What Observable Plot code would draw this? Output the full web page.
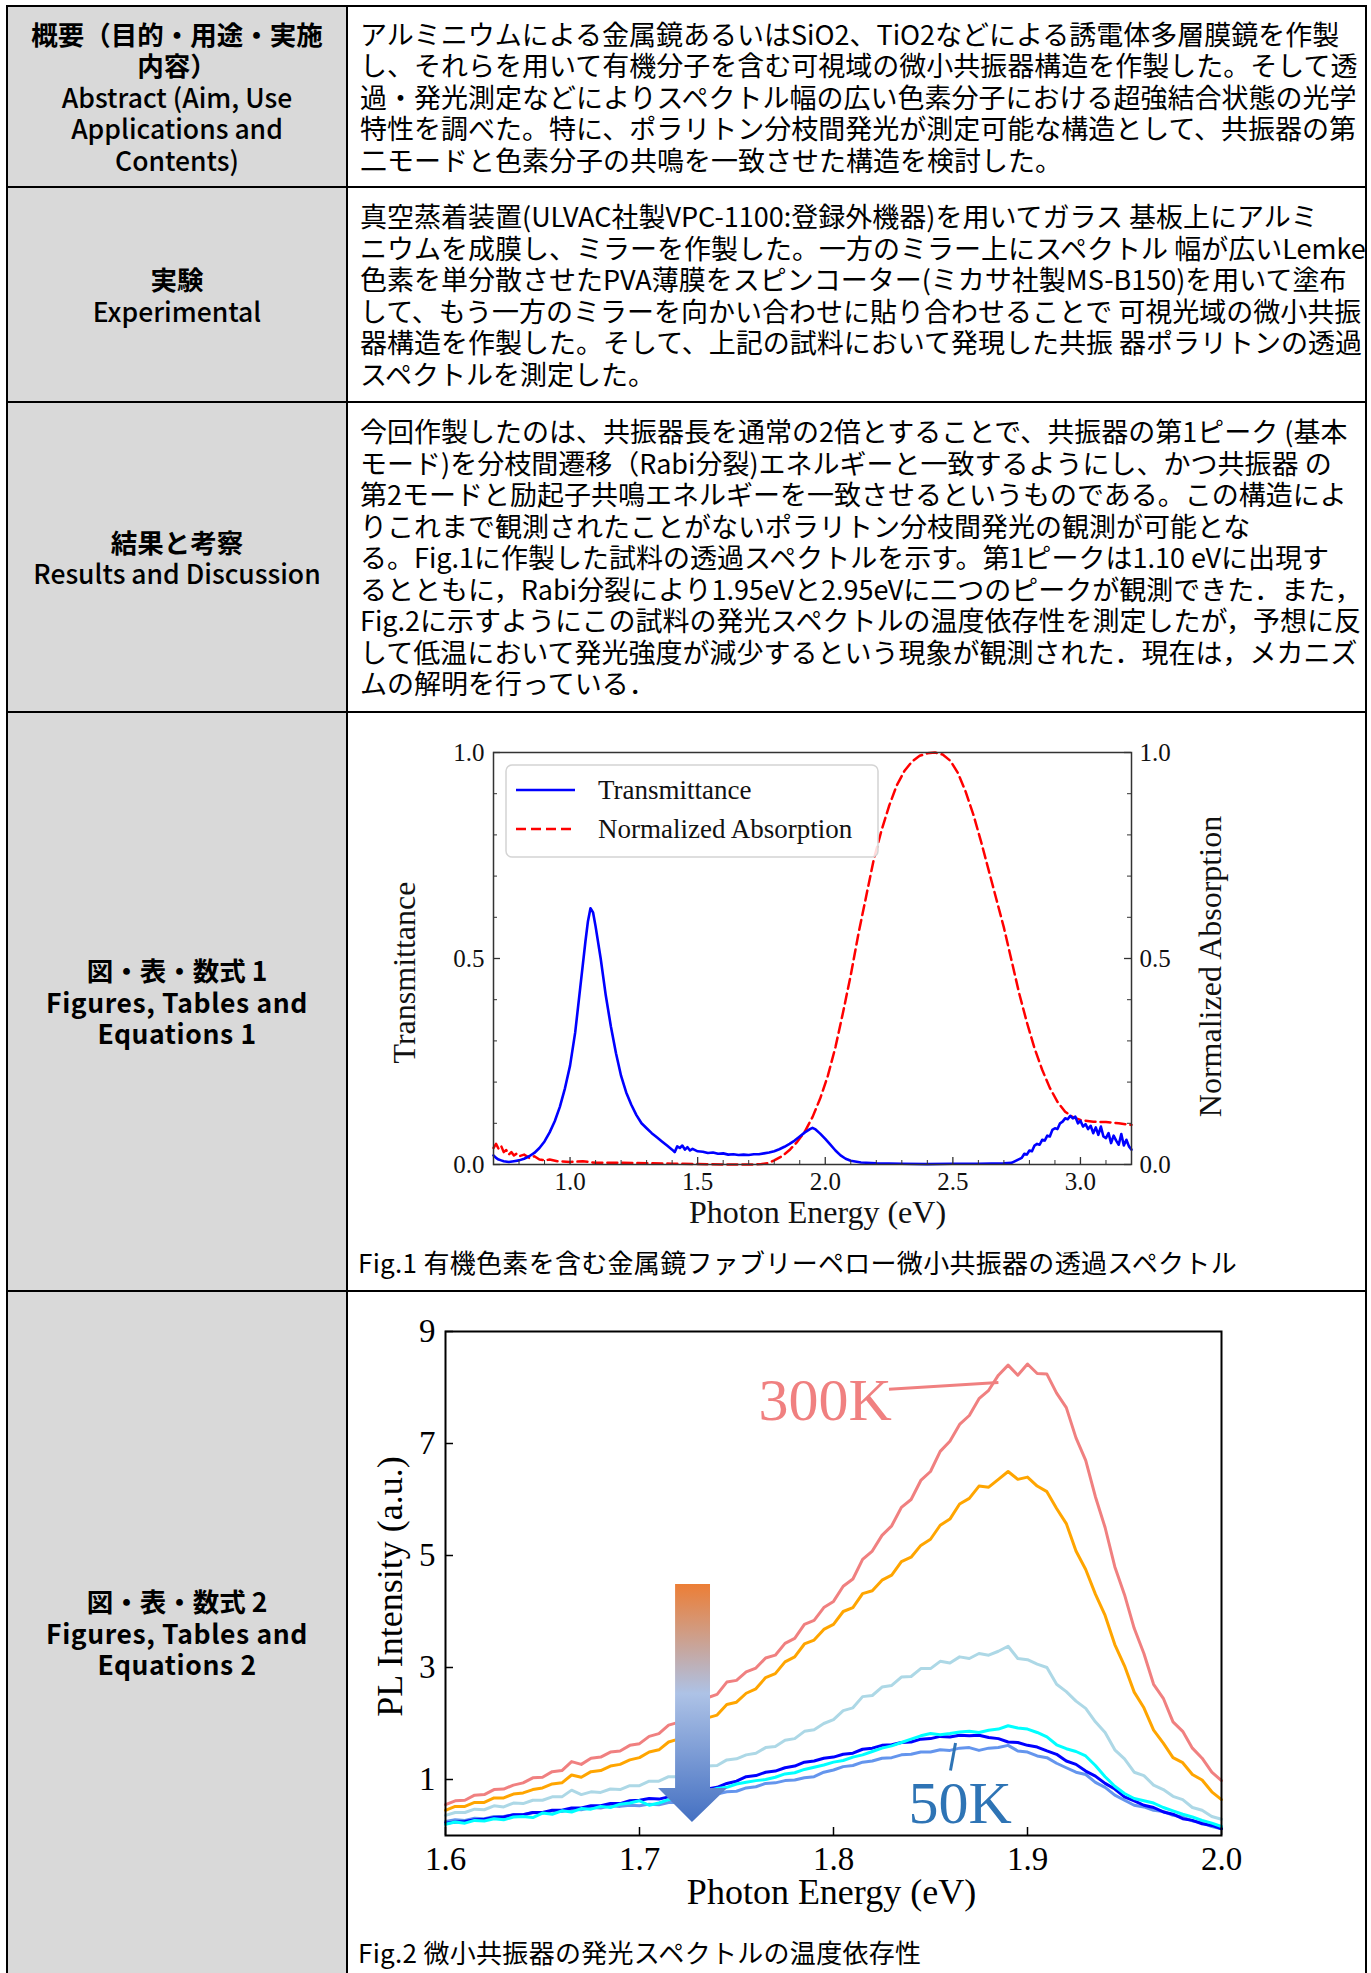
<!DOCTYPE html>
<html lang="ja">
<head>
<meta charset="utf-8">
<script src="https://cdn.jsdelivr.net/npm/d3@7"></script>
<script src="https://cdn.jsdelivr.net/npm/@observablehq/plot@0.6"></script>
<style>
html,body{margin:0;padding:0;background:#fff;}
body{position:relative;width:1371px;height:1973px;overflow:hidden;font-family:"Noto Sans CJK JP","Noto Sans",sans-serif;color:#000;}
.hl{position:absolute;left:6px;width:1361px;height:2px;background:#000;}
.vl{position:absolute;top:5px;width:2px;height:1968px;background:#000;}
.lc{position:absolute;left:8px;width:338px;background:#d9d9d9;display:flex;align-items:center;justify-content:center;text-align:center;font-size:26.5px;line-height:31.5px;}
.lc b{font-weight:700;}
.en{font-weight:500;}
.enb{font-weight:700;letter-spacing:0.6px;}
.rc{position:absolute;left:348px;width:1017px;display:flex;align-items:center;box-sizing:border-box;padding-left:12px;font-size:27px;line-height:31.5px;white-space:nowrap;}
.cap{position:absolute;left:358px;font-size:26px;line-height:26px;white-space:nowrap;letter-spacing:0.3px;}
.chart{position:absolute;left:348px;}
</style>
</head>
<body>
<div class="lc" style="top:7px;height:179px;"><div><b>概要（目的・用途・実施<br>内容）</b><br><span class="en">Abstract (Aim, Use<br>Applications and<br>Contents)</span></div></div>
<div class="rc" style="top:7px;height:179px;"><div>アルミニウムによる金属鏡あるいはSiO2、TiO2などによる誘電体多層膜鏡を作製<br>し、それらを用いて有機分子を含む可視域の微小共振器構造を作製した。そして透<br>過・発光測定などによりスペクトル幅の広い色素分子における超強結合状態の光学<br>特性を調べた。特に、ポラリトン分枝間発光が測定可能な構造として、共振器の第<br>二モードと色素分子の共鳴を一致させた構造を検討した。</div></div>

<div class="lc" style="top:188px;height:213px;"><div><b>実験</b><br><span class="en">Experimental</span></div></div>
<div class="rc" style="top:188px;height:213px;"><div>真空蒸着装置(ULVAC社製VPC-1100:登録外機器)を用いてガラス 基板上にアルミ<br>ニウムを成膜し、ミラーを作製した。一方のミラー上にスペクトル 幅が広いLemke<br>色素を単分散させたPVA薄膜をスピンコーター(ミカサ社製MS-B150)を用いて塗布<br>して、もう一方のミラーを向かい合わせに貼り合わせることで 可視光域の微小共振<br>器構造を作製した。そして、上記の試料において発現した共振 器ポラリトンの透過<br>スペクトルを測定した。</div></div>

<div class="lc" style="top:403px;height:308px;"><div><b>結果と考察</b><br><span class="en">Results and Discussion</span></div></div>
<div class="rc" style="top:403px;height:308px;"><div>今回作製したのは、共振器長を通常の2倍とすることで、共振器の第1ピーク (基本<br>モード)を分枝間遷移（Rabi分裂)エネルギーと一致するようにし、かつ共振器 の<br>第2モードと励起子共鳴エネルギーを一致させるというものである。この構造によ<br>りこれまで観測されたことがないポラリトン分枝間発光の観測が可能とな<br>る。Fig.1に作製した試料の透過スペクトルを示す。第1ピークは1.10 eVに出現す<br>るとともに，Rabi分裂により1.95eVと2.95eVに二つのピークが観測できた．また，<br>Fig.2に示すようにこの試料の発光スペクトルの温度依存性を測定したが，予想に反<br>して低温において発光強度が減少するという現象が観測された．現在は，メカニズ<br>ムの解明を行っている．</div></div>

<div class="lc" style="top:713px;height:577px;"><div><b>図・表・数式 1</b><br><span class="enb">Figures, Tables and<br>Equations 1</span></div></div>
<div class="lc" style="top:1292px;height:681px;"><div><b>図・表・数式 2</b><br><span class="enb">Figures, Tables and<br>Equations 2</span></div></div>

<div class="hl" style="top:5px;"></div>
<div class="hl" style="top:186px;"></div>
<div class="hl" style="top:401px;"></div>
<div class="hl" style="top:711px;"></div>
<div class="hl" style="top:1290px;"></div>
<div class="vl" style="left:6px;"></div>
<div class="vl" style="left:346px;"></div>
<div class="vl" style="left:1365px;"></div>

<div id="fig1" class="chart" style="top:713px;"></div>
<div id="fig2" class="chart" style="top:1292px;"></div>
<div class="cap" style="top:1249px;">Fig.1 有機色素を含む金属鏡ファブリーペロー微小共振器の透過スペクトル</div>
<div class="cap" style="top:1939px;">Fig.2 微小共振器の発光スペクトルの温度依存性</div>

<script>
// ---------------- Fig.1 data ----------------
const transEnergy = [0.70,0.71,0.72,0.73,0.74,0.76,0.78,0.80,0.82,0.84,0.86,0.88,0.90,0.92,0.94,0.96,0.98,1.00,1.02,1.04,1.06,1.07,1.08,1.09,1.10,1.12,1.14,1.16,1.18,1.20,1.22,1.24,1.26,1.28,1.30,1.32,1.34,1.36,1.38,1.40,1.41,1.42,1.43,1.44,1.45,1.46,1.47,1.48,1.50,1.52,1.54,1.56,1.58,1.60,1.62,1.64,1.66,1.68,1.70,1.72,1.74,1.76,1.78,1.80,1.82,1.84,1.86,1.88,1.90,1.92,1.94,1.95,1.96,1.98,2.00,2.02,2.04,2.06,2.08,2.10,2.14,2.20,2.30,2.40,2.50,2.60,2.70,2.73,2.75,2.77,2.78,2.79,2.80,2.81,2.82,2.83,2.84,2.85,2.86,2.87,2.88,2.89,2.90,2.91,2.92,2.93,2.94,2.95,2.96,2.97,2.98,2.99,3.00,3.01,3.02,3.03,3.04,3.05,3.06,3.07,3.08,3.09,3.10,3.11,3.12,3.13,3.14,3.15,3.16,3.17,3.18,3.19,3.20];
const transValue = [0.022,0.016,0.012,0.010,0.008,0.006,0.008,0.010,0.014,0.020,0.028,0.040,0.056,0.078,0.105,0.140,0.185,0.240,0.320,0.430,0.540,0.590,0.622,0.612,0.578,0.500,0.410,0.335,0.270,0.215,0.175,0.145,0.120,0.100,0.088,0.076,0.066,0.056,0.046,0.036,0.030,0.044,0.040,0.046,0.036,0.042,0.034,0.038,0.032,0.031,0.028,0.029,0.026,0.027,0.024,0.025,0.023,0.024,0.023,0.025,0.025,0.027,0.029,0.032,0.037,0.043,0.050,0.058,0.068,0.078,0.086,0.089,0.086,0.075,0.062,0.048,0.034,0.022,0.014,0.009,0.005,0.003,0.002,0.001,0.002,0.002,0.003,0.004,0.010,0.016,0.026,0.024,0.034,0.032,0.046,0.050,0.048,0.060,0.058,0.070,0.068,0.084,0.088,0.086,0.100,0.104,0.112,0.110,0.118,0.112,0.116,0.100,0.106,0.092,0.098,0.086,0.094,0.076,0.090,0.072,0.092,0.068,0.064,0.076,0.052,0.070,0.058,0.048,0.074,0.046,0.060,0.044,0.036];
const absEnergy = [0.70,0.71,0.72,0.73,0.74,0.75,0.76,0.77,0.78,0.79,0.80,0.82,0.84,0.86,0.88,0.90,0.92,0.95,1.00,1.05,1.10,1.20,1.30,1.40,1.50,1.60,1.70,1.75,1.78,1.80,1.83,1.86,1.89,1.92,1.95,1.98,2.01,2.04,2.07,2.10,2.13,2.16,2.19,2.22,2.25,2.28,2.31,2.34,2.37,2.40,2.43,2.46,2.49,2.52,2.55,2.58,2.61,2.64,2.67,2.70,2.73,2.76,2.79,2.82,2.85,2.88,2.91,2.94,2.97,3.00,3.05,3.10,3.15,3.20];
const absValue = [0.040,0.050,0.038,0.045,0.030,0.035,0.024,0.030,0.022,0.026,0.020,0.024,0.016,0.020,0.012,0.010,0.012,0.008,0.006,0.008,0.004,0.004,0.003,0.002,0.001,0.000,0.000,0.001,0.004,0.010,0.020,0.035,0.055,0.080,0.115,0.160,0.215,0.285,0.370,0.460,0.560,0.650,0.740,0.810,0.870,0.920,0.955,0.978,0.992,0.998,1.000,0.995,0.980,0.950,0.905,0.850,0.785,0.715,0.645,0.575,0.495,0.415,0.345,0.282,0.230,0.186,0.152,0.128,0.115,0.108,0.104,0.103,0.100,0.096];
const fig1SeriesNames = ["Transmittance", "Normalized Absorption"];
const fig1MajorX = [1.0, 1.5, 2.0, 2.5, 3.0];
const fig1MinorX = [0.7,0.8,0.9,1.1,1.2,1.3,1.4,1.6,1.7,1.8,1.9,2.1,2.2,2.3,2.4,2.6,2.7,2.8,2.9,3.1];
const fig1MajorY = [0.0, 0.5, 1.0];
const fig1MinorY = [0.1,0.2,0.3,0.4,0.6,0.7,0.8,0.9];

// ---------------- Fig.2 data ----------------
const plEnergy = [1.600,1.605,1.610,1.615,1.620,1.625,1.630,1.635,1.640,1.645,
1.650,1.655,1.660,1.665,1.670,1.675,1.680,1.685,1.690,1.695,
1.700,1.705,1.710,1.715,1.720,1.725,1.730,1.735,1.740,1.745,
1.750,1.755,1.760,1.765,1.770,1.775,1.780,1.785,1.790,1.795,
1.800,1.805,1.810,1.815,1.820,1.825,1.830,1.835,1.840,1.845,
1.850,1.855,1.860,1.865,1.870,1.875,1.880,1.885,1.890,1.895,
1.900,1.905,1.910,1.915,1.920,1.925,1.930,1.935,1.940,1.945,
1.950,1.955,1.960,1.965,1.970,1.975,1.980,1.985,1.990,1.995,
2.000];
const plLightcoral = [0.55,0.62,0.63,0.72,0.73,0.82,0.83,0.90,0.94,1.03,
1.04,1.14,1.16,1.32,1.27,1.38,1.40,1.49,1.51,1.61,
1.64,1.77,1.82,1.97,2.02,2.20,2.27,2.46,2.52,2.74,
2.77,2.92,2.99,3.17,3.22,3.43,3.52,3.77,3.84,4.07,
4.18,4.45,4.58,4.93,5.08,5.36,5.53,5.86,6.00,6.34,
6.50,6.86,7.04,7.34,7.50,7.80,7.95,8.22,8.40,8.22,
8.42,8.25,8.24,7.90,7.64,7.10,6.70,6.05,5.50,4.80,
4.30,3.70,3.25,2.70,2.45,2.03,1.86,1.56,1.38,1.13,
0.98];
const plOrange = [0.45,0.52,0.52,0.59,0.59,0.67,0.67,0.74,0.76,0.82,
0.85,0.92,0.94,1.08,1.04,1.14,1.16,1.24,1.27,1.35,
1.39,1.49,1.53,1.67,1.72,1.88,1.93,2.10,2.15,2.34,
2.38,2.54,2.62,2.82,2.89,3.10,3.19,3.42,3.49,3.68,
3.77,4.00,4.07,4.32,4.37,4.56,4.65,4.89,4.97,5.18,
5.29,5.54,5.65,5.92,6.02,6.24,6.22,6.36,6.50,6.36,
6.40,6.24,6.14,5.84,5.57,5.08,4.75,4.31,3.93,3.41,
3.03,2.56,2.28,1.88,1.65,1.39,1.30,1.09,0.99,0.78,
0.64];
const plLightblue = [0.36,0.41,0.41,0.47,0.46,0.53,0.51,0.58,0.57,0.63,
0.63,0.69,0.69,0.81,0.73,0.78,0.77,0.83,0.82,0.89,
0.89,0.97,0.97,1.05,1.05,1.14,1.14,1.24,1.25,1.35,
1.37,1.44,1.47,1.57,1.59,1.70,1.73,1.86,1.89,2.00,
2.07,2.23,2.28,2.48,2.50,2.65,2.68,2.83,2.84,2.98,
2.98,3.11,3.08,3.19,3.16,3.25,3.22,3.29,3.38,3.16,
3.14,3.06,3.00,2.70,2.57,2.40,2.27,2.03,1.84,1.53,
1.37,1.13,1.07,0.90,0.82,0.70,0.64,0.50,0.45,0.34,
0.29];
const plCornflower = [0.25,0.28,0.27,0.31,0.30,0.34,0.34,0.37,0.37,0.41,
0.40,0.44,0.43,0.47,0.46,0.50,0.49,0.53,0.52,0.54,
0.53,0.56,0.55,0.59,0.59,0.64,0.66,0.72,0.74,0.78,
0.79,0.85,0.87,0.93,0.94,0.98,0.99,1.03,1.05,1.13,
1.17,1.23,1.25,1.31,1.33,1.38,1.39,1.44,1.45,1.49,
1.49,1.53,1.52,1.56,1.57,1.52,1.56,1.57,1.61,1.51,
1.49,1.42,1.39,1.29,1.21,1.13,1.09,0.95,0.86,0.72,
0.63,0.54,0.51,0.45,0.43,0.36,0.33,0.26,0.23,0.16,
0.12];
const plBlue = [0.22,0.24,0.25,0.28,0.29,0.32,0.33,0.37,0.37,0.41,
0.41,0.45,0.45,0.49,0.49,0.53,0.53,0.57,0.57,0.62,
0.63,0.66,0.65,0.69,0.70,0.75,0.77,0.83,0.86,0.93,
0.97,1.05,1.07,1.13,1.15,1.21,1.24,1.31,1.33,1.38,
1.40,1.45,1.47,1.54,1.56,1.61,1.62,1.66,1.67,1.72,
1.73,1.77,1.76,1.79,1.78,1.79,1.75,1.73,1.67,1.66,
1.61,1.58,1.51,1.45,1.33,1.27,1.15,1.06,0.93,0.83,
0.69,0.62,0.54,0.50,0.42,0.38,0.30,0.27,0.21,0.18,
0.12];
const plCyan = [0.20,0.24,0.22,0.27,0.26,0.30,0.28,0.33,0.34,0.32,
0.40,0.38,0.44,0.42,0.48,0.47,0.52,0.50,0.56,0.58,
0.62,0.54,0.58,0.64,0.66,0.70,0.76,0.79,0.84,0.86,
0.92,0.95,0.98,1.00,1.04,1.10,1.12,1.18,1.22,1.26,
1.31,1.34,1.40,1.44,1.50,1.56,1.60,1.66,1.72,1.78,
1.82,1.80,1.82,1.85,1.86,1.84,1.88,1.90,1.96,1.92,
1.90,1.84,1.76,1.62,1.55,1.50,1.42,1.25,1.05,0.88,
0.75,0.66,0.62,0.58,0.50,0.44,0.38,0.33,0.27,0.22,
0.16];
const fig2TicksX = [1.6, 1.7, 1.8, 1.9, 2.0];
const fig2TicksY = [1, 3, 5, 7, 9];
const fig2Labels = ["300K", "50K"];

// ---------------- build tables ----------------
const trans = transEnergy.map((e, i) => ({e, v: transValue[i]}));
const absorb = absEnergy.map((e, i) => ({e, v: absValue[i]}));
const plSeries = [
  {name: "lightcoral", color: "#f08080", values: plLightcoral},
  {name: "orange", color: "#ffa500", values: plOrange},
  {name: "lightblue", color: "#add8e6", values: plLightblue},
  {name: "cornflower", color: "#6495ed", values: plCornflower},
  {name: "blue", color: "#0000ff", values: plBlue},
  {name: "cyan", color: "#00ffff", values: plCyan}
];

const serif = "'Liberation Serif', 'Times New Roman', serif";

// ---------------- Fig.1 ----------------
const W1 = 1017, H1 = 532, ml1 = 145, mr1 = 234, mt1 = 39, mb1 = 81;
const fw1 = W1 - ml1 - mr1, fh1 = H1 - mt1 - mb1;

function legend1(index, scales, values, dims) {
  const g = d3.create("svg:g");
  const x0 = dims.marginLeft + 13, y0 = dims.marginTop + 13;
  g.append("rect").attr("x", x0).attr("y", y0).attr("width", 372).attr("height", 92)
    .attr("rx", 6).attr("fill", "#fff").attr("fill-opacity", 0.85)
    .attr("stroke", "#d4d4d4").attr("stroke-width", 1.5);
  const rows = [
    {name: fig1SeriesNames[0], color: "#0000ff", dash: null, dy: 25},
    {name: fig1SeriesNames[1], color: "#ff0000", dash: "10,5", dy: 64}
  ];
  for (const r of rows) {
    g.append("line").attr("x1", x0 + 10).attr("x2", x0 + 69)
      .attr("y1", y0 + r.dy).attr("y2", y0 + r.dy)
      .attr("stroke", r.color).attr("stroke-width", 2.5)
      .attr("stroke-dasharray", r.dash);
    g.append("text").attr("x", x0 + 92).attr("y", y0 + r.dy + 9)
      .attr("text-anchor", "start")
      .attr("font-size", 27).attr("font-family", serif).attr("fill", "#111")
      .text(r.name);
  }
  return g.node();
}

const fig1 = Plot.plot({
  width: W1, height: H1,
  marginLeft: ml1, marginRight: mr1, marginTop: mt1, marginBottom: mb1,
  style: {fontFamily: serif, background: "transparent", overflow: "visible", color: "#111"},
  x: {domain: [0.7, 3.2]},
  y: {domain: [0, 1]},
  marks: [
    Plot.line(absorb, {x: "e", y: "v", stroke: "#ff0000", strokeWidth: 2.5, strokeDasharray: "10,5"}),
    Plot.line(trans, {x: "e", y: "v", stroke: "#0000ff", strokeWidth: 2.6}),
    Plot.tickX(fig1MinorX, {x: d => d, insetTop: fh1 - 4, stroke: "#333", strokeWidth: 1}),
    Plot.tickX(fig1MajorX, {x: d => d, insetTop: fh1 - 7, stroke: "#333", strokeWidth: 1.3}),
    Plot.tickY(fig1MinorY, {y: d => d, insetRight: fw1 - 4, stroke: "#333", strokeWidth: 1}),
    Plot.tickY(fig1MajorY, {y: d => d, insetRight: fw1 - 7, stroke: "#333", strokeWidth: 1.3}),
    Plot.tickY(fig1MinorY, {y: d => d, insetLeft: fw1 - 4, stroke: "#333", strokeWidth: 1}),
    Plot.tickY(fig1MajorY, {y: d => d, insetLeft: fw1 - 7, stroke: "#333", strokeWidth: 1.3}),
    Plot.frame({stroke: "#333", strokeWidth: 1.5}),
    Plot.axisX(fig1MajorX, {tickSize: 0, tickPadding: 8, tickFormat: d3.format(".1f"), fontSize: 25, label: null}),
    Plot.axisY(fig1MajorY, {anchor: "left", tickSize: 0, tickPadding: 9, tickFormat: d3.format(".1f"), fontSize: 25, label: null}),
    Plot.axisY(fig1MajorY, {anchor: "right", tickSize: 0, tickPadding: 8, tickFormat: d3.format(".1f"), fontSize: 25, label: null}),
    Plot.text(["Transmittance"], {text: d => d, frameAnchor: "left", textAnchor: "middle", dx: -89, dy: 14, rotate: -90, fontSize: 32}),
    Plot.text(["Normalized Absorption"], {text: d => d, frameAnchor: "right", textAnchor: "middle", dx: 79, dy: 8, rotate: -90, fontSize: 32}),
    Plot.text(["Photon Energy (eV)"], {text: d => d, frameAnchor: "bottom", textAnchor: "middle", dx: 5, dy: 58, fontSize: 32}),
    legend1
  ]
});
document.getElementById("fig1").appendChild(fig1);

// ---------------- Fig.2 ----------------
const W2 = 1017, H2 = 633, ml2 = 97, mr2 = 144, mt2 = 39, mb2 = 90;
const fw2 = W2 - ml2 - mr2, fh2 = H2 - mt2 - mb2;

const plRows = plSeries.flatMap(s => plEnergy.map((e, i) => ({e, v: s.values[i], name: s.name, color: s.color})));

// gradient arrow annotation (data units)
const arrowSpec = {shaftLeft: 1.7186, shaftRight: 1.7366, top: 4.48, shaftBottom: 0.84, headLeft: 1.7098, headRight: 1.7454, tipX: 1.7273, tipY: 0.23};

function gradientArrow(index, scales) {
  const {x, y} = scales;
  const a = arrowSpec;
  const g = d3.create("svg:g");
  const grad = g.append("defs").append("linearGradient").attr("id", "arrowGrad")
    .attr("x1", 0).attr("y1", 0).attr("x2", 0).attr("y2", 1);
  grad.append("stop").attr("offset", "0%").attr("stop-color", "#ec7e36");
  grad.append("stop").attr("offset", "46%").attr("stop-color", "#adc2e6");
  grad.append("stop").attr("offset", "100%").attr("stop-color", "#4470c2");
  const pts = [
    [x(a.shaftLeft), y(a.top)], [x(a.shaftRight), y(a.top)],
    [x(a.shaftRight), y(a.shaftBottom)], [x(a.headRight), y(a.shaftBottom)],
    [x(a.tipX), y(a.tipY)], [x(a.headLeft), y(a.shaftBottom)],
    [x(a.shaftLeft), y(a.shaftBottom)]
  ];
  g.append("path").attr("d", "M" + pts.map(p => p.join(",")).join("L") + "Z")
    .attr("fill", "url(#arrowGrad)");
  return g.node();
}

const labelAnchors = [
  {text: fig2Labels[0], e: 1.7613, v: 7.77, color: "#f08080"},
  {text: fig2Labels[1], e: 1.8387, v: 0.57, color: "#2e74b5"}
];
const leaders = [
  {e1: 1.8286, v1: 7.97, e2: 1.8850, v2: 8.09, color: "#f08080"},
  {e1: 1.8603, v1: 1.16, e2: 1.8629, v2: 1.65, color: "#2e74b5"}
];

const fig2 = Plot.plot({
  width: W2, height: H2,
  marginLeft: ml2, marginRight: mr2, marginTop: mt2, marginBottom: mb2,
  style: {fontFamily: serif, background: "transparent", overflow: "visible", color: "#000"},
  x: {domain: [1.6, 2.0]},
  y: {domain: [0, 9]},
  marks: [
    Plot.line(plRows, {x: "e", y: "v", z: "name", stroke: "color", strokeWidth: 3, strokeLinejoin: "round"}),
    gradientArrow,
    Plot.link(leaders, {x1: "e1", y1: "v1", x2: "e2", y2: "v2", stroke: "color", strokeWidth: 3}),
    Plot.text(labelAnchors, {x: "e", y: "v", text: "text", fill: "color", fontSize: 60, textAnchor: "start"}),
    Plot.tickX(fig2TicksX, {x: d => d, insetTop: fh2 - 8, stroke: "#000", strokeWidth: 1.5}),
    Plot.tickY(fig2TicksY, {y: d => d, insetRight: fw2 - 8, stroke: "#000", strokeWidth: 1.5}),
    Plot.frame({stroke: "#000", strokeWidth: 2}),
    Plot.axisX(fig2TicksX, {tickSize: 0, tickPadding: 11, tickFormat: d3.format(".1f"), fontSize: 33, label: null}),
    Plot.axisY(fig2TicksY, {anchor: "left", tickSize: 0, tickPadding: 10, tickFormat: d3.format("d"), fontSize: 33, label: null}),
    Plot.text(["PL Intensity (a.u.)"], {text: d => d, frameAnchor: "left", textAnchor: "middle", dx: -55, dy: 3, rotate: -90, fontSize: 36}),
    Plot.text(["Photon Energy (eV)"], {text: d => d, frameAnchor: "bottom", textAnchor: "middle", dx: -2, dy: 68, fontSize: 36})
  ]
});
document.getElementById("fig2").appendChild(fig2);
</script>
</body>
</html>
